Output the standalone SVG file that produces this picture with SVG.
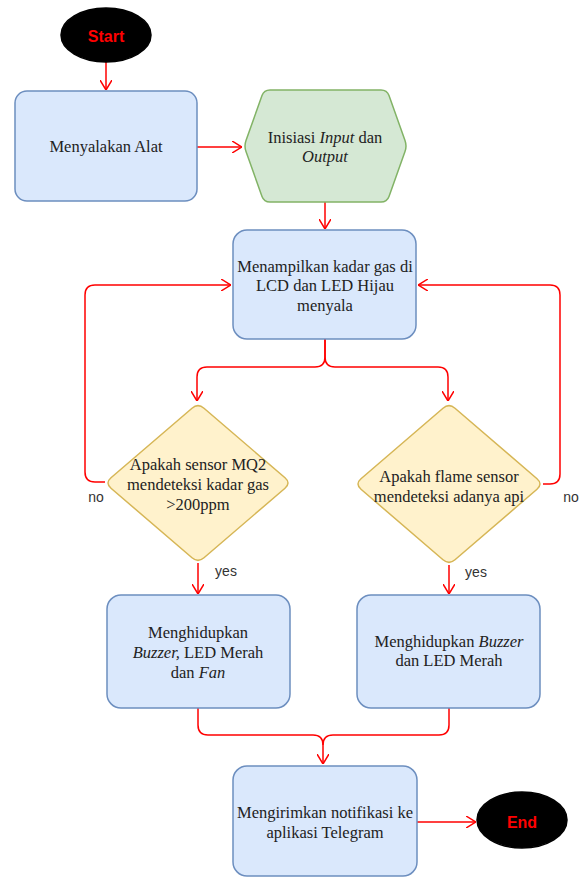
<svg xmlns="http://www.w3.org/2000/svg" width="585" height="878" viewBox="0 0 585 878">
<defs>
<marker id="arr" viewBox="0 0 10 12" refX="10" refY="6" markerWidth="10" markerHeight="12" markerUnits="userSpaceOnUse" orient="auto">
<path d="M0,0 L10,6 L0,12" fill="none" stroke="#ff0000" stroke-width="1.5"/>
</marker>
<style>
.proc{fill:#dae8fc;stroke:#6c8ebf;stroke-width:1.5}
.dec{fill:#fff2cc;stroke:#d6b656;stroke-width:1.5}
.hex{fill:#d5e8d4;stroke:#82b366;stroke-width:1.5}
.term{fill:#000000;stroke:#000000;stroke-width:1.5}
.t{font-family:"Liberation Serif","Times New Roman",serif;font-size:16.5px;fill:#222222;text-anchor:middle}
.tt{font-family:"Liberation Sans",Arial,sans-serif;font-size:16px;font-weight:bold;fill:#ff0000;text-anchor:middle}
.lbl{font-family:"Liberation Sans",Arial,sans-serif;font-size:14px;fill:#333333;text-anchor:middle}
.c{fill:none;stroke:#ff0000;stroke-width:1.5;marker-end:url(#arr)}
.cn{fill:none;stroke:#ff0000;stroke-width:1.5}
</style>
</defs>
<g id="connectors">
<path class="c" d="M106,62 L106,90"/>
<path class="c" d="M197,147 L242,147"/>
<path class="c" d="M325,202 L325,229"/>
<path class="c" d="M325,339 L325,357 Q325,367 315,367 L207,367 Q197,367 197,377 L197,401"/>
<path class="c" d="M325,339 L325,357 Q325,367 335,367 L438,367 Q448,367 448,377 L448,401"/>
<path class="c" d="M105,482 L95,482 Q85,482 85,472 L85,295 Q85,285 95,285 L231,285"/>
<path class="c" d="M543,484 L550,484 Q560,484 560,474 L560,295 Q560,285 550,285 L418,285"/>
<path class="c" d="M198,563 L198,594"/>
<path class="c" d="M449,565 L449,594"/>
<path class="c" d="M198,708 L198,725 Q198,735 208,735 L313,735 Q323,735 323,745 L323,764"/>
<path class="cn" d="M449,708 L449,725 Q449,735 439,735 L333,735 Q323,735 323,745"/>
<path class="c" d="M417,822 L476,822"/>
<text class="lbl" x="96" y="502">no</text>
<text class="lbl" x="571" y="502">no</text>
<text class="lbl" x="226" y="576">yes</text>
<text class="lbl" x="476" y="577">yes</text>
</g>
<g id="start">
<ellipse class="term" cx="106" cy="35" rx="45" ry="27"/>
<text class="tt" x="106" y="42">Start</text>
</g>
<g id="menyalakan">
<rect class="proc" x="15" y="91" width="182" height="110" rx="12"/>
<text class="t" x="106" y="152">Menyalakan Alat</text>
</g>
<g id="inisiasi">
<path class="hex" d="M270,90 L381,90 Q387,90 389,95.6 L405,140.4 Q407,146 405,151.6 L389,196.4 Q387,202 381,202 L270,202 Q264,202 262,196.4 L246,151.6 Q244,146 246,140.4 L262,95.6 Q264,90 270,90 Z"/>
<text class="t" x="325" y="143">Inisiasi <tspan font-style="italic">Input</tspan> dan</text>
<text class="t" x="325" y="162" font-style="italic">Output</text>
</g>
<g id="menampilkan">
<rect class="proc" x="233" y="230" width="183" height="109" rx="14"/>
<text class="t" x="325" y="272">Menampilkan kadar gas di</text>
<text class="t" x="325" y="291">LCD dan LED Hijau</text>
<text class="t" x="325" y="311">menyala</text>
</g>
<g id="cek-mq2">
<path class="dec" d="M192,408.2 Q198,403 204,408.2 L285,477.8 Q291,483 285,488.2 L204,557.8 Q198,563 192,557.8 L111,488.2 Q105,483 111,477.8 Z"/>
<text class="t" x="198" y="470">Apakah sensor MQ2</text>
<text class="t" x="198" y="490">mendeteksi kadar gas</text>
<text class="t" x="198" y="510">&gt;200ppm</text>
</g>
<g id="cek-flame">
<path class="dec" d="M443,408.2 Q449,403 455,408.2 L537,478.8 Q543,484 537,489.2 L455,559.8 Q449,565 443,559.8 L361,489.2 Q355,484 361,478.8 Z"/>
<text class="t" x="449" y="482">Apakah flame sensor</text>
<text class="t" x="449" y="502">mendeteksi adanya api</text>
</g>
<g id="aksi-gas">
<rect class="proc" x="107" y="595" width="183" height="113" rx="14"/>
<text class="t" x="198" y="638">Menghidupkan</text>
<text class="t" x="198" y="658"><tspan font-style="italic">Buzzer,</tspan> LED Merah</text>
<text class="t" x="198" y="678">dan <tspan font-style="italic">Fan</tspan></text>
</g>
<g id="aksi-api">
<rect class="proc" x="357" y="595" width="183" height="113" rx="14"/>
<text class="t" x="449" y="647">Menghidupkan <tspan font-style="italic">Buzzer</tspan></text>
<text class="t" x="449" y="666">dan LED Merah</text>
</g>
<g id="kirim">
<rect class="proc" x="233" y="766" width="184" height="110" rx="14"/>
<text class="t" x="325" y="818">Mengirimkan notifikasi ke</text>
<text class="t" x="325" y="838">aplikasi Telegram</text>
</g>
<g id="end">
<ellipse class="term" cx="522" cy="820" rx="45" ry="28"/>
<text class="tt" x="522" y="828">End</text>
</g>
</svg>
